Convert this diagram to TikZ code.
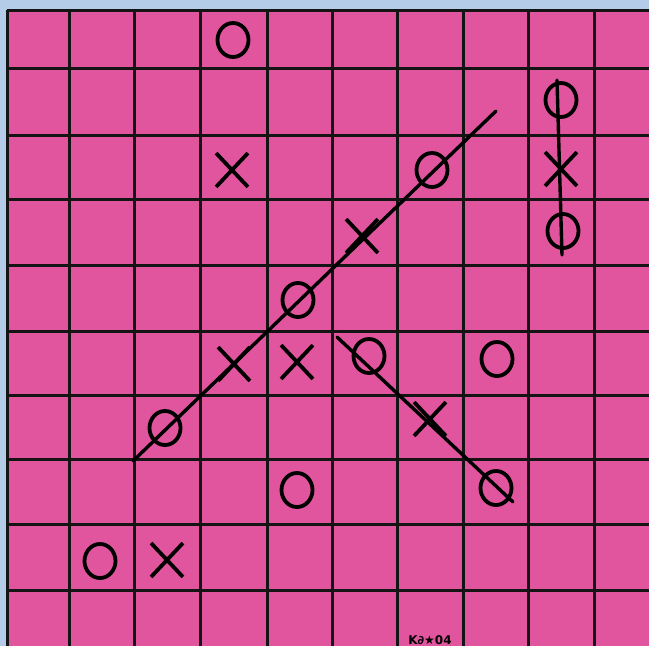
\documentclass[tikz,border=0pt]{standalone}
\usepackage{fontspec}
\newfontfamily\sigfont{DejaVu Sans}
\usetikzlibrary{shapes.misc,shapes.geometric}
\definecolor{bgblue}{RGB}{180,204,232}
\definecolor{paper}{RGB}{224,85,157}
\begin{document}
\begin{tikzpicture}[x=1pt,y=-1pt,
  gridline/.style={line width=3pt, draw=black!92},
  omark/.style={ellipse, draw, line width=3.8pt, minimum width=31pt, minimum height=34pt, inner sep=0pt},
  xmark/.style={cross out, draw, line width=3.8pt, minimum width=28pt, minimum height=30pt, inner sep=0pt},
  winline/.style={line width=3.4pt, line cap=round}]
\useasboundingbox (0,0) rectangle (649,646);
\fill[bgblue] (0,0) rectangle (649,646);
\fill[paper] (7,10) rectangle (649,646);
\foreach \x in {7,69,134,200,267,332,397,463,528,594} \draw[gridline] (\x,10) -- (\x,646);
\foreach \y in {10,68,135,199,265,331,395,459,524,590} \draw[gridline] (7,\y) -- (649,\y);
% marks
\node[omark] (o1) at (233,40) {};
\node[xmark] (x1) at (232,170) {};
\node[omark] (o2) at (432,170) {};
\node[xmark] (x2) at (362,236) {};
\node[omark] (o3) at (298,300) {};
\node[xmark] (x3) at (234,364) {};
\node[xmark] (x4) at (297,362) {};
\node[omark] (o4) at (369,356) {};
\node[omark] (o5) at (497,359) {};
\node[omark] (o6) at (165,428) {};
\node[xmark] (x5) at (430,419) {};
\node[omark] (o7) at (297,490) {};
\node[omark] (o8) at (496,488) {};
\node[omark] (o9) at (100,561) {};
\node[xmark] (x6) at (167,560) {};
\node[omark] (o10) at (561,100) {};
\node[xmark] (x7) at (561,169) {};
\node[omark] (o11) at (563,231) {};
% line ends
\coordinate (a1) at (133,461);
\coordinate (b1) at (496,111);
\coordinate (a2) at (337,337);
\coordinate (b2) at (513,502);
\coordinate (a3) at (557,80);
\coordinate (b3) at (562,255);
\draw[winline] (a1) -- (b1);
\draw[winline] (a2) -- (b2);
\draw[winline] (a3) -- (b3);
\node[font=\sigfont\bfseries\fontsize{12}{12}\selectfont, inner sep=0pt] (sig) at (430,640) {K∂★04};
\end{tikzpicture}
\end{document}
